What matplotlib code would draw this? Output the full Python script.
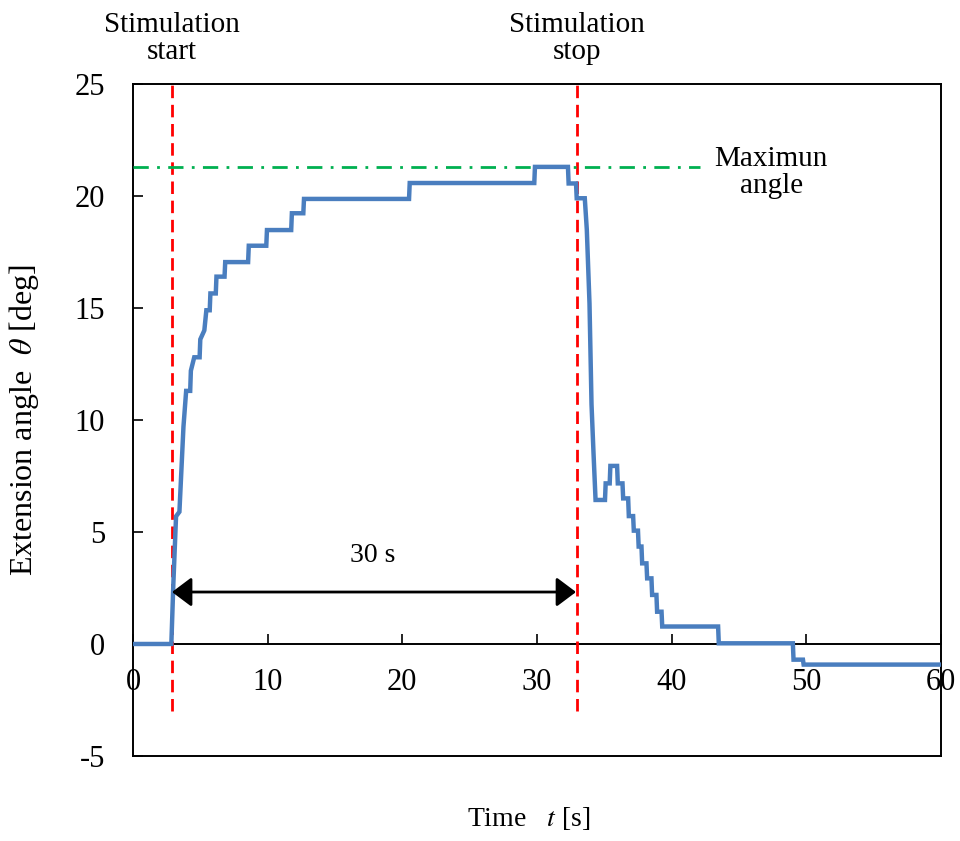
import matplotlib
matplotlib.use("Agg")
import matplotlib.pyplot as plt

plt.rcParams["font.family"] = ["Liberation Serif", "DejaVu Serif"]
plt.rcParams["mathtext.fontset"] = "stix"
plt.rcParams["axes.unicode_minus"] = False

# ---------------------------------------------------------------------------
# Data (time [s], extension angle [deg])
# ---------------------------------------------------------------------------
time_s = [
    0.0, 2.85, 3.0, 3.2, 3.45, 3.6, 3.75, 3.95, 4.25, 4.3, 4.55, 4.95, 5.0,
    5.3, 5.45, 5.7, 5.75, 6.15, 6.2, 6.8, 6.85, 8.55, 8.6, 9.9, 9.95, 11.75,
    11.8, 12.65, 12.7, 20.5, 20.55, 29.8, 29.85, 32.3, 32.35, 32.9, 32.95,
    33.55, 33.7, 33.9, 34.05, 34.2, 34.35, 35.05, 35.1, 35.4, 35.45, 35.95,
    36.0, 36.35, 36.4, 36.77, 36.82, 37.14, 37.19, 37.5, 37.55, 37.76, 37.81,
    38.13, 38.18, 38.5, 38.55, 38.87, 38.92, 39.25, 39.3, 43.45, 43.5, 49.0,
    49.05, 49.75, 49.8, 60.0,
]
angle_deg = [
    0.0, 0.0, 2.7, 5.7, 5.9, 7.8, 9.7, 11.3, 11.3, 12.2, 12.8, 12.8, 13.6,
    14.0, 14.9, 14.9, 15.65, 15.65, 16.4, 16.4, 17.05, 17.05, 17.78, 17.78,
    18.48, 18.48, 19.23, 19.23, 19.87, 19.87, 20.58, 20.58, 21.3, 21.3, 20.56,
    20.56, 19.9, 19.9, 18.5, 15.2, 10.7, 8.5, 6.43, 6.43, 7.17, 7.17, 7.95,
    7.95, 7.17, 7.17, 6.5, 6.5, 5.71, 5.71, 5.06, 5.06, 4.35, 4.35, 3.6, 3.6,
    2.93, 2.93, 2.19, 2.19, 1.44, 1.44, 0.78, 0.78, 0.03, 0.03, -0.7, -0.7,
    -0.92, -0.92,
]

stim_start = 2.9
stim_stop = 33.0
max_angle = 21.3
max_line_end = 42.1
arrow_y = 2.32

x_ticks = [0, 10, 20, 30, 40, 50, 60]
y_ticks = [-5, 0, 5, 10, 15, 20, 25]

fig = plt.figure(figsize=(9.6, 8.41), dpi=100)
ax = fig.add_axes([0.1385, 0.1011, 0.8417, 0.7990])

ax.plot(time_s, angle_deg, color="#4A7EBF", lw=3.2, solid_joinstyle="miter", zorder=4)

# stimulation markers
ax.vlines([stim_start, stim_stop], -3, 25, colors="#FF0000", lw=2,
          linestyles=[(0, (4.5, 2.4))], zorder=3)
ax.hlines(max_angle, 0, max_line_end, colors="#00B050", lw=2,
          linestyles=[(0, (5.5, 3, 1, 3))], zorder=3)

# 30 s arrow
ax.annotate("", xy=(stim_start, arrow_y), xytext=(stim_stop - 0.1, arrow_y),
            arrowprops=dict(arrowstyle="<|-|>,head_length=0.6,head_width=0.45",
                            color="black", lw=2, shrinkA=0, shrinkB=0,
                            mutation_scale=20), zorder=5)
ax.text(17.8, 3.97, "30 s", ha="center", va="center", fontsize=20)

# annotations outside / inside
ax.text(stim_start, 1.067, "Stimulation\nstart", transform=ax.get_xaxis_transform(),
        ha="center", va="center", fontsize=21, linespacing=1.05, clip_on=False)
ax.text(stim_stop, 1.067, "Stimulation\nstop", transform=ax.get_xaxis_transform(),
        ha="center", va="center", fontsize=21, linespacing=1.05, clip_on=False)
ax.text(47.4, 21.07, "Maximun\nangle", ha="center", va="center", fontsize=21,
        linespacing=1.05)

ax.set_xlim(0, 60)
ax.set_ylim(-5, 25)
ax.set_xticks(x_ticks)
ax.set_yticks(y_ticks)

for side in ["left", "right", "top", "bottom"]:
    ax.spines[side].set_linewidth(1.4)
ax.spines["bottom"].set_position(("data", 0))
ax.axhline(-5, color="black", lw=1.4, clip_on=False, zorder=6)

ax.tick_params(axis="both", direction="in", length=7, width=1.2, labelsize=22)
ax.tick_params(axis="x", pad=17)
ax.tick_params(axis="y", pad=20)

ax.set_xlabel("Time   $t$ [s]", fontsize=20)
ax.xaxis.set_label_coords(0.49, -0.073)
ax.xaxis.label.set_va("top")
ax.set_ylabel("Extension angle  $\\theta$ [deg]", fontsize=23)
ax.yaxis.set_label_coords(-0.114, 0.5)

fig.savefig("out.png", dpi=100)
